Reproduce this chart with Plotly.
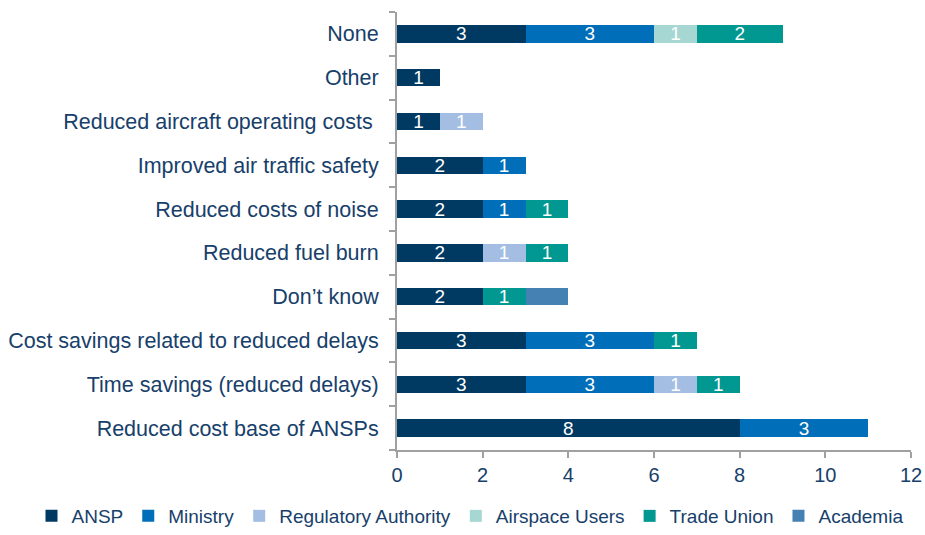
import plotly.graph_objects as go

# Categories listed bottom to top, as plotted
CATEGORIES = [
    "Reduced cost base of ANSPs",
    "Time savings (reduced delays)",
    "Cost savings related to reduced delays",
    "Don\u2019t know",
    "Reduced fuel burn",
    "Reduced costs of noise",
    "Improved air traffic safety",
    "Reduced aircraft operating costs ",
    "Other",
    "None",
]

ANSP           = [8, 3, 3, 2, 2, 2, 2, 1, 1, 3]
MINISTRY       = [3, 3, 3, 0, 0, 1, 1, 0, 0, 3]
REGULATORY     = [0, 1, 0, 0, 1, 0, 0, 1, 0, 0]
AIRSPACE_USERS = [0, 0, 0, 0, 0, 0, 0, 0, 0, 1]
TRADE_UNION    = [0, 1, 1, 1, 1, 1, 0, 0, 0, 2]
ACADEMIA       = [0, 0, 0, 1, 0, 0, 0, 0, 0, 0]

SERIES = [
    ("ANSP",                 ANSP,           "#003A63", True),
    ("Ministry",             MINISTRY,       "#006EB8", True),
    ("Regulatory Authority", REGULATORY,     "#A3BEE2", True),
    ("Airspace Users",       AIRSPACE_USERS, "#A6D7D3", True),
    ("Trade Union",          TRADE_UNION,    "#009891", True),
    ("Academia",             ACADEMIA,       "#4681B4", False),  # no data label in source
]

TEXT_COLOR = "#17406A"
AXIS_GREY  = "#A0A0A0"
FONT = "Liberation Sans, Arial, sans-serif"

W, H = 925, 535
M_T, M_R = 12, 14
PLOT_LEFT, PLOT_BOTTOM = 397, 450   # pixel edges of the plot area

fig = go.Figure()

for name, values, color, labelled in SERIES:
    xs = [v if v else None for v in values]
    texts = [str(v) if (v and labelled) else "" for v in values]
    fig.add_trace(go.Bar(
        x                = xs,
        y                = CATEGORIES,
        orientation      = "h",
        name             = name,
        marker           = dict(color=color, line=dict(width=0)),
        text             = texts,
        textposition     = "inside",
        insidetextanchor = "middle",
        constraintext    = "none",
        textangle        = 0,
        textfont         = dict(color="white", size=19, family=FONT),
    ))

# margins are kept at zero on left/bottom and the plot is placed with axis
# domains, so the wide one-row legend sits inside the paper and pushes nothing
paper_w = W - M_R
paper_h = H - M_T

fig.update_layout(
    barmode       = "stack",
    bargap        = 0.6,
    width         = W,
    height        = H,
    plot_bgcolor  = "white",
    paper_bgcolor = "white",
    margin        = dict(l=0, r=M_R, t=M_T, b=0),
    font          = dict(family=FONT, size=20, color=TEXT_COLOR),
    legend        = dict(
        orientation = "h",
        x           = 470 / paper_w,
        xanchor     = "center",
        y           = 0,
        yanchor     = "bottom",
        font        = dict(size=19, color=TEXT_COLOR),
        traceorder  = "normal",
        itemwidth   = 30,
        bgcolor     = "rgba(0,0,0,0)",
    ),
    xaxis = dict(
        domain     = [PLOT_LEFT / paper_w, 1],
        range      = [0, 12],
        dtick      = 2,
        showgrid   = False,
        zeroline   = False,
        showline   = True,
        linecolor  = AXIS_GREY,
        linewidth  = 2,
        ticks      = "outside",
        ticklen    = 6,
        tickwidth  = 2,
        tickcolor  = AXIS_GREY,
        tickfont   = dict(size=20, color=TEXT_COLOR),
        automargin = False,
    ),
    yaxis = dict(
        domain     = [(H - PLOT_BOTTOM) / paper_h, 1],
        showgrid   = False,
        showline   = True,
        linecolor  = AXIS_GREY,
        linewidth  = 2,
        ticks      = "outside",
        tickson    = "boundaries",
        ticklen    = 6,
        tickwidth  = 2,
        tickcolor  = AXIS_GREY,
        ticklabelstandoff = 12,
        tickfont   = dict(size=21.5, color=TEXT_COLOR),
        automargin = False,
    ),
)

# the page's default body margin would shift the figure and add scrollbars
fig.write_html(
    "out.html",
    config={"displayModeBar": False},
    post_script="document.body.style.margin='0';document.body.style.overflow='hidden';",
)
